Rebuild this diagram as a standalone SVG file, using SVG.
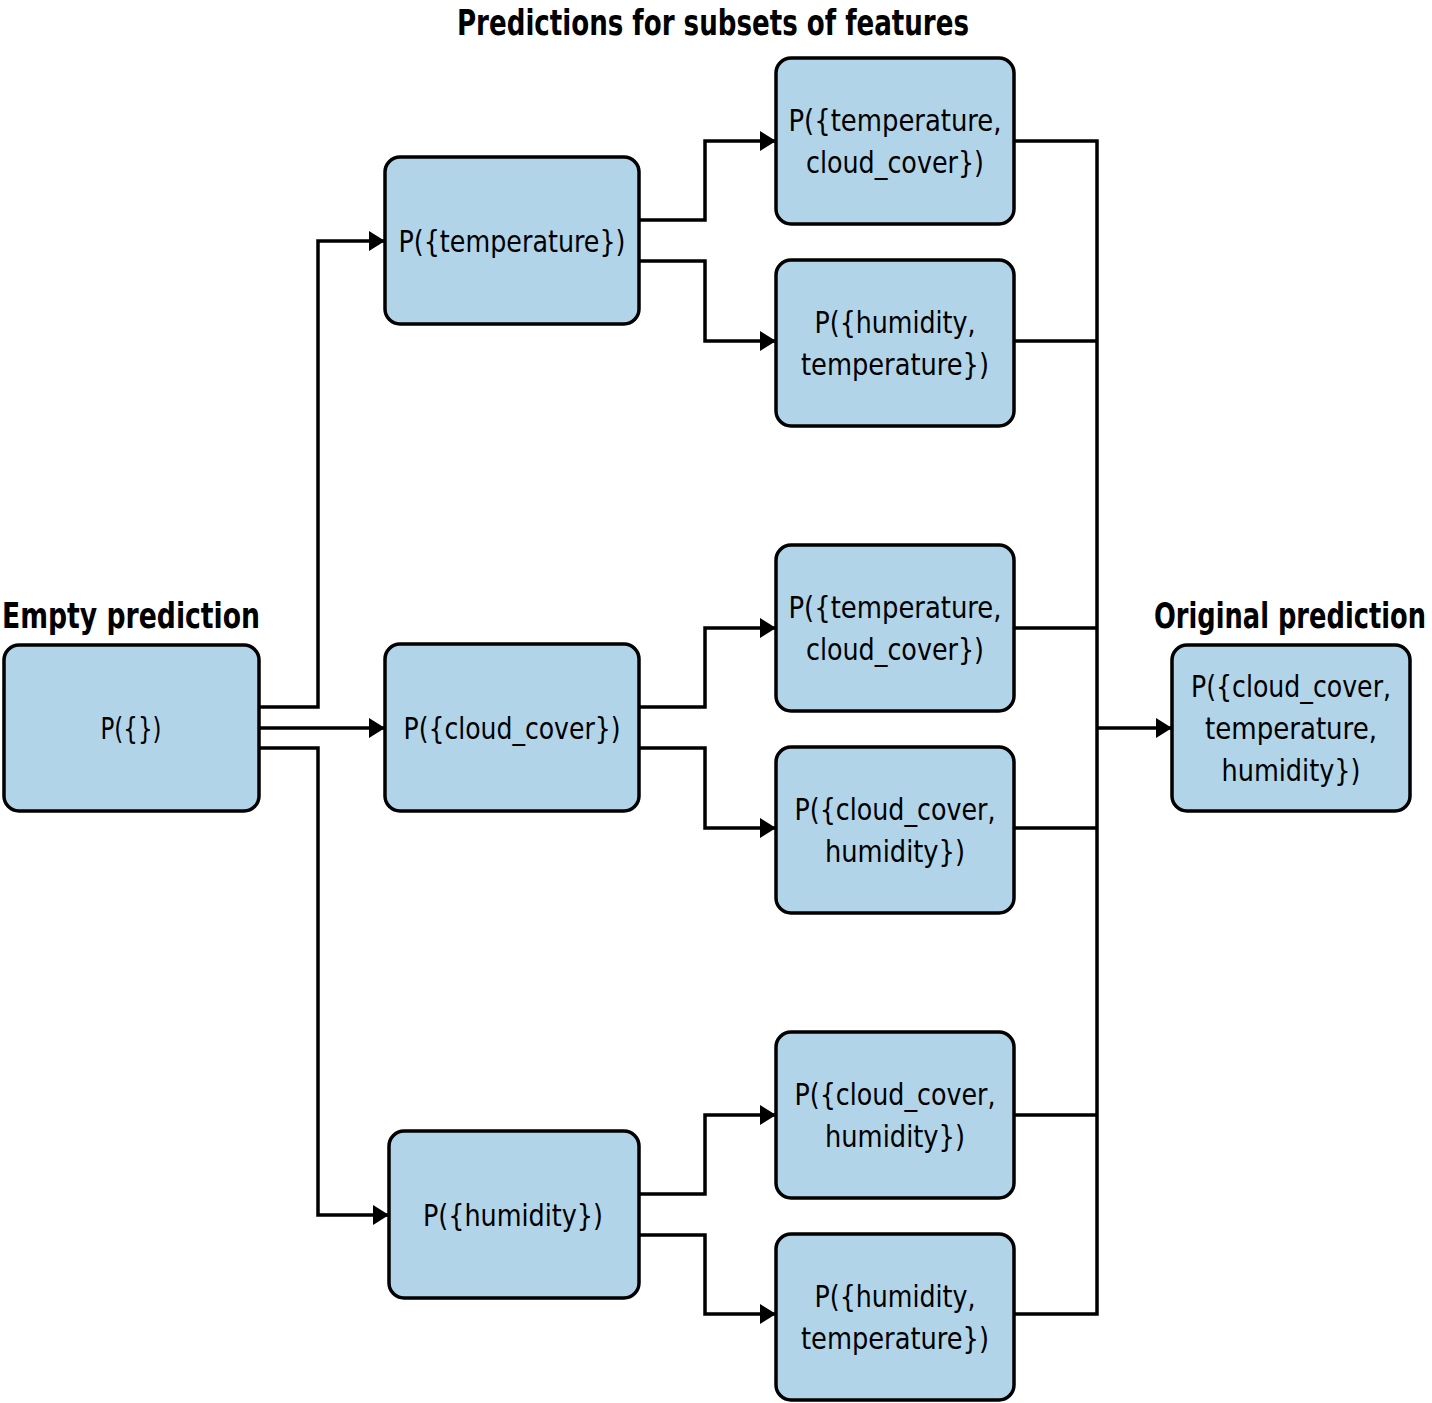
<svg xmlns="http://www.w3.org/2000/svg" width="1432" height="1403" viewBox="0 0 1432 1403">
<style>
.box{fill:#b1d4e9;stroke:#000;stroke-width:3.5}
.t{font-family:"DejaVu Sans Condensed","Liberation Sans",sans-serif;font-size:30px;fill:#000;text-anchor:middle}
.h{font-family:"DejaVu Sans Condensed","Liberation Sans",sans-serif;font-size:35px;font-weight:bold;fill:#000}
.c{fill:none;stroke:#000;stroke-width:3.5}
</style>
<defs>
<marker id="ah" markerUnits="userSpaceOnUse" markerWidth="16" markerHeight="20" refX="16" refY="10" orient="auto">
<path d="M0,0 L16,10 L0,20 Z" fill="#000"/>
</marker>
</defs>
<text class="h" x="457" y="35" textLength="512" lengthAdjust="spacingAndGlyphs">Predictions for subsets of features</text>
<text class="h" x="2" y="628" textLength="258" lengthAdjust="spacingAndGlyphs">Empty prediction</text>
<text class="h" style="font-size:25px" transform="translate(1290,628) scale(1,1.4)" x="0" y="0" text-anchor="middle" textLength="272" lengthAdjust="spacingAndGlyphs">Original prediction</text>
<g id="connectors">
<path class="c" d="M259,707 H318 V241 H385" marker-end="url(#ah)"/>
<path class="c" d="M259,728 H385" marker-end="url(#ah)"/>
<path class="c" d="M259,748 H318 V1215 H389" marker-end="url(#ah)"/>
<path class="c" d="M639,220 H705 V141 H776" marker-end="url(#ah)"/>
<path class="c" d="M639,261 H705 V341 H776" marker-end="url(#ah)"/>
<path class="c" d="M639,707 H705 V628 H776" marker-end="url(#ah)"/>
<path class="c" d="M639,748 H705 V828 H776" marker-end="url(#ah)"/>
<path class="c" d="M639,1194 H705 V1115 H776" marker-end="url(#ah)"/>
<path class="c" d="M639,1235 H705 V1314 H776" marker-end="url(#ah)"/>
<path class="c" d="M1014,141 H1097 M1014,341 H1097 M1014,628 H1097 M1014,828 H1097 M1014,1115 H1097 M1014,1314 H1097 M1097,139.25 V1315.75"/>
<path class="c" d="M1097,728 H1172" marker-end="url(#ah)"/>
</g>
<g id="empty"><rect class="box" x="4" y="645" width="255" height="166" rx="15"/><text class="t" x="131" y="739" textLength="61" lengthAdjust="spacingAndGlyphs">P({})</text></g>
<g id="temp"><rect class="box" x="385" y="157" width="254" height="167" rx="15"/><text class="t" x="512" y="252" textLength="227" lengthAdjust="spacingAndGlyphs">P({temperature})</text></g>
<g id="cloud"><rect class="box" x="385" y="644" width="254" height="167" rx="15"/><text class="t" x="512" y="739" textLength="217" lengthAdjust="spacingAndGlyphs">P({cloud_cover})</text></g>
<g id="humid"><rect class="box" x="389" y="1131" width="250" height="167" rx="15"/><text class="t" x="513" y="1226" textLength="180" lengthAdjust="spacingAndGlyphs">P({humidity})</text></g>
<g id="tc1"><rect class="box" x="776" y="58" width="238" height="166" rx="15"/><text class="t" x="895" y="131" textLength="213" lengthAdjust="spacingAndGlyphs">P({temperature,</text><text class="t" x="895" y="173" textLength="178" lengthAdjust="spacingAndGlyphs">cloud_cover})</text></g>
<g id="ht1"><rect class="box" x="776" y="260" width="238" height="166" rx="15"/><text class="t" x="895" y="333" textLength="161" lengthAdjust="spacingAndGlyphs">P({humidity,</text><text class="t" x="895" y="375" textLength="188" lengthAdjust="spacingAndGlyphs">temperature})</text></g>
<g id="tc2"><rect class="box" x="776" y="545" width="238" height="166" rx="15"/><text class="t" x="895" y="618" textLength="213" lengthAdjust="spacingAndGlyphs">P({temperature,</text><text class="t" x="895" y="660" textLength="178" lengthAdjust="spacingAndGlyphs">cloud_cover})</text></g>
<g id="ch1"><rect class="box" x="776" y="747" width="238" height="166" rx="15"/><text class="t" x="895" y="820" textLength="201" lengthAdjust="spacingAndGlyphs">P({cloud_cover,</text><text class="t" x="895" y="862" textLength="140" lengthAdjust="spacingAndGlyphs">humidity})</text></g>
<g id="ch2"><rect class="box" x="776" y="1032" width="238" height="166" rx="15"/><text class="t" x="895" y="1105" textLength="201" lengthAdjust="spacingAndGlyphs">P({cloud_cover,</text><text class="t" x="895" y="1147" textLength="140" lengthAdjust="spacingAndGlyphs">humidity})</text></g>
<g id="ht2"><rect class="box" x="776" y="1234" width="238" height="166" rx="15"/><text class="t" x="895" y="1307" textLength="161" lengthAdjust="spacingAndGlyphs">P({humidity,</text><text class="t" x="895" y="1349" textLength="188" lengthAdjust="spacingAndGlyphs">temperature})</text></g>
<g id="orig"><rect class="box" x="1172" y="645" width="238" height="166" rx="15"/><text class="t" x="1291" y="697" textLength="200" lengthAdjust="spacingAndGlyphs">P({cloud_cover,</text><text class="t" x="1291" y="739" textLength="172" lengthAdjust="spacingAndGlyphs">temperature,</text><text class="t" x="1291" y="781" textLength="139" lengthAdjust="spacingAndGlyphs">humidity})</text></g>
</svg>
